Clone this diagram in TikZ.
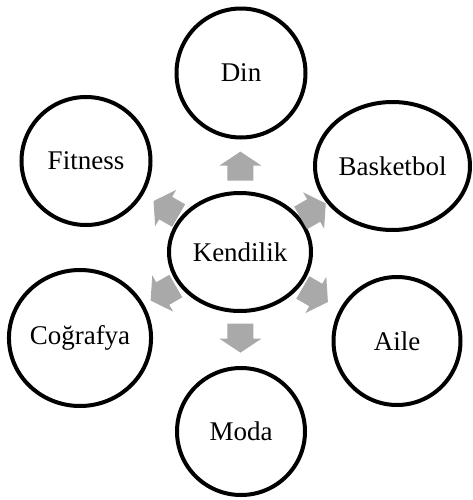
\documentclass[tikz,border=0pt]{standalone}
\usepackage{fontspec}
\setmainfont{Liberation Serif}
\usetikzlibrary{shapes.geometric,calc}

\definecolor{arrowgray}{RGB}{169,169,169}

\tikzset{
  bubble/.style={draw, ellipse, line width=3pt, inner sep=0pt, font=\fontsize{20.25}{24}\selectfont},
  blockarrow/.pic={\fill[arrowgray] (-14.5,-13) -- (0.5,-13) -- (0.5,-21) -- (14.5,0) -- (0.5,21) -- (0.5,13) -- (-14.5,13) -- cycle;}
}

\begin{document}
\begin{tikzpicture}[x=0.75pt,y=0.75pt,yscale=-1,xscale=1]
\useasboundingbox (0,0) rectangle (473,500);

% Centre
\node [bubble, minimum width=106.5pt, minimum height=88.5pt] (kendilik) at (240,252) {Kendilik};

% Outer bubbles
\node [bubble, minimum width=96.75pt, minimum height=96.75pt] (din) at (241,73) {Din};
\node [bubble, minimum width=116.25pt, minimum height=96pt] (basket) at (392.5,166) {Basketbol};
\node [bubble, minimum width=95.25pt, minimum height=96pt] (aile) at (397,341) {Aile};
\node [bubble, minimum width=96pt, minimum height=95.25pt] (moda) at (241,431.5) {Moda};
\node [bubble, minimum width=106.5pt, minimum height=102pt] (cografya) at (80,338) {Coğrafya};
\node [bubble, minimum width=96.75pt, minimum height=96pt] (fitness) at (86,161) {Fitness};

% Block arrows
\foreach \n/\a in {din/90, basket/30, aile/-30, moda/-90, cografya/-150, fitness/150}
  \pic [rotate=\a] at ($(kendilik)!0.48!(\n)$) {blockarrow};

\end{tikzpicture}
\end{document}
